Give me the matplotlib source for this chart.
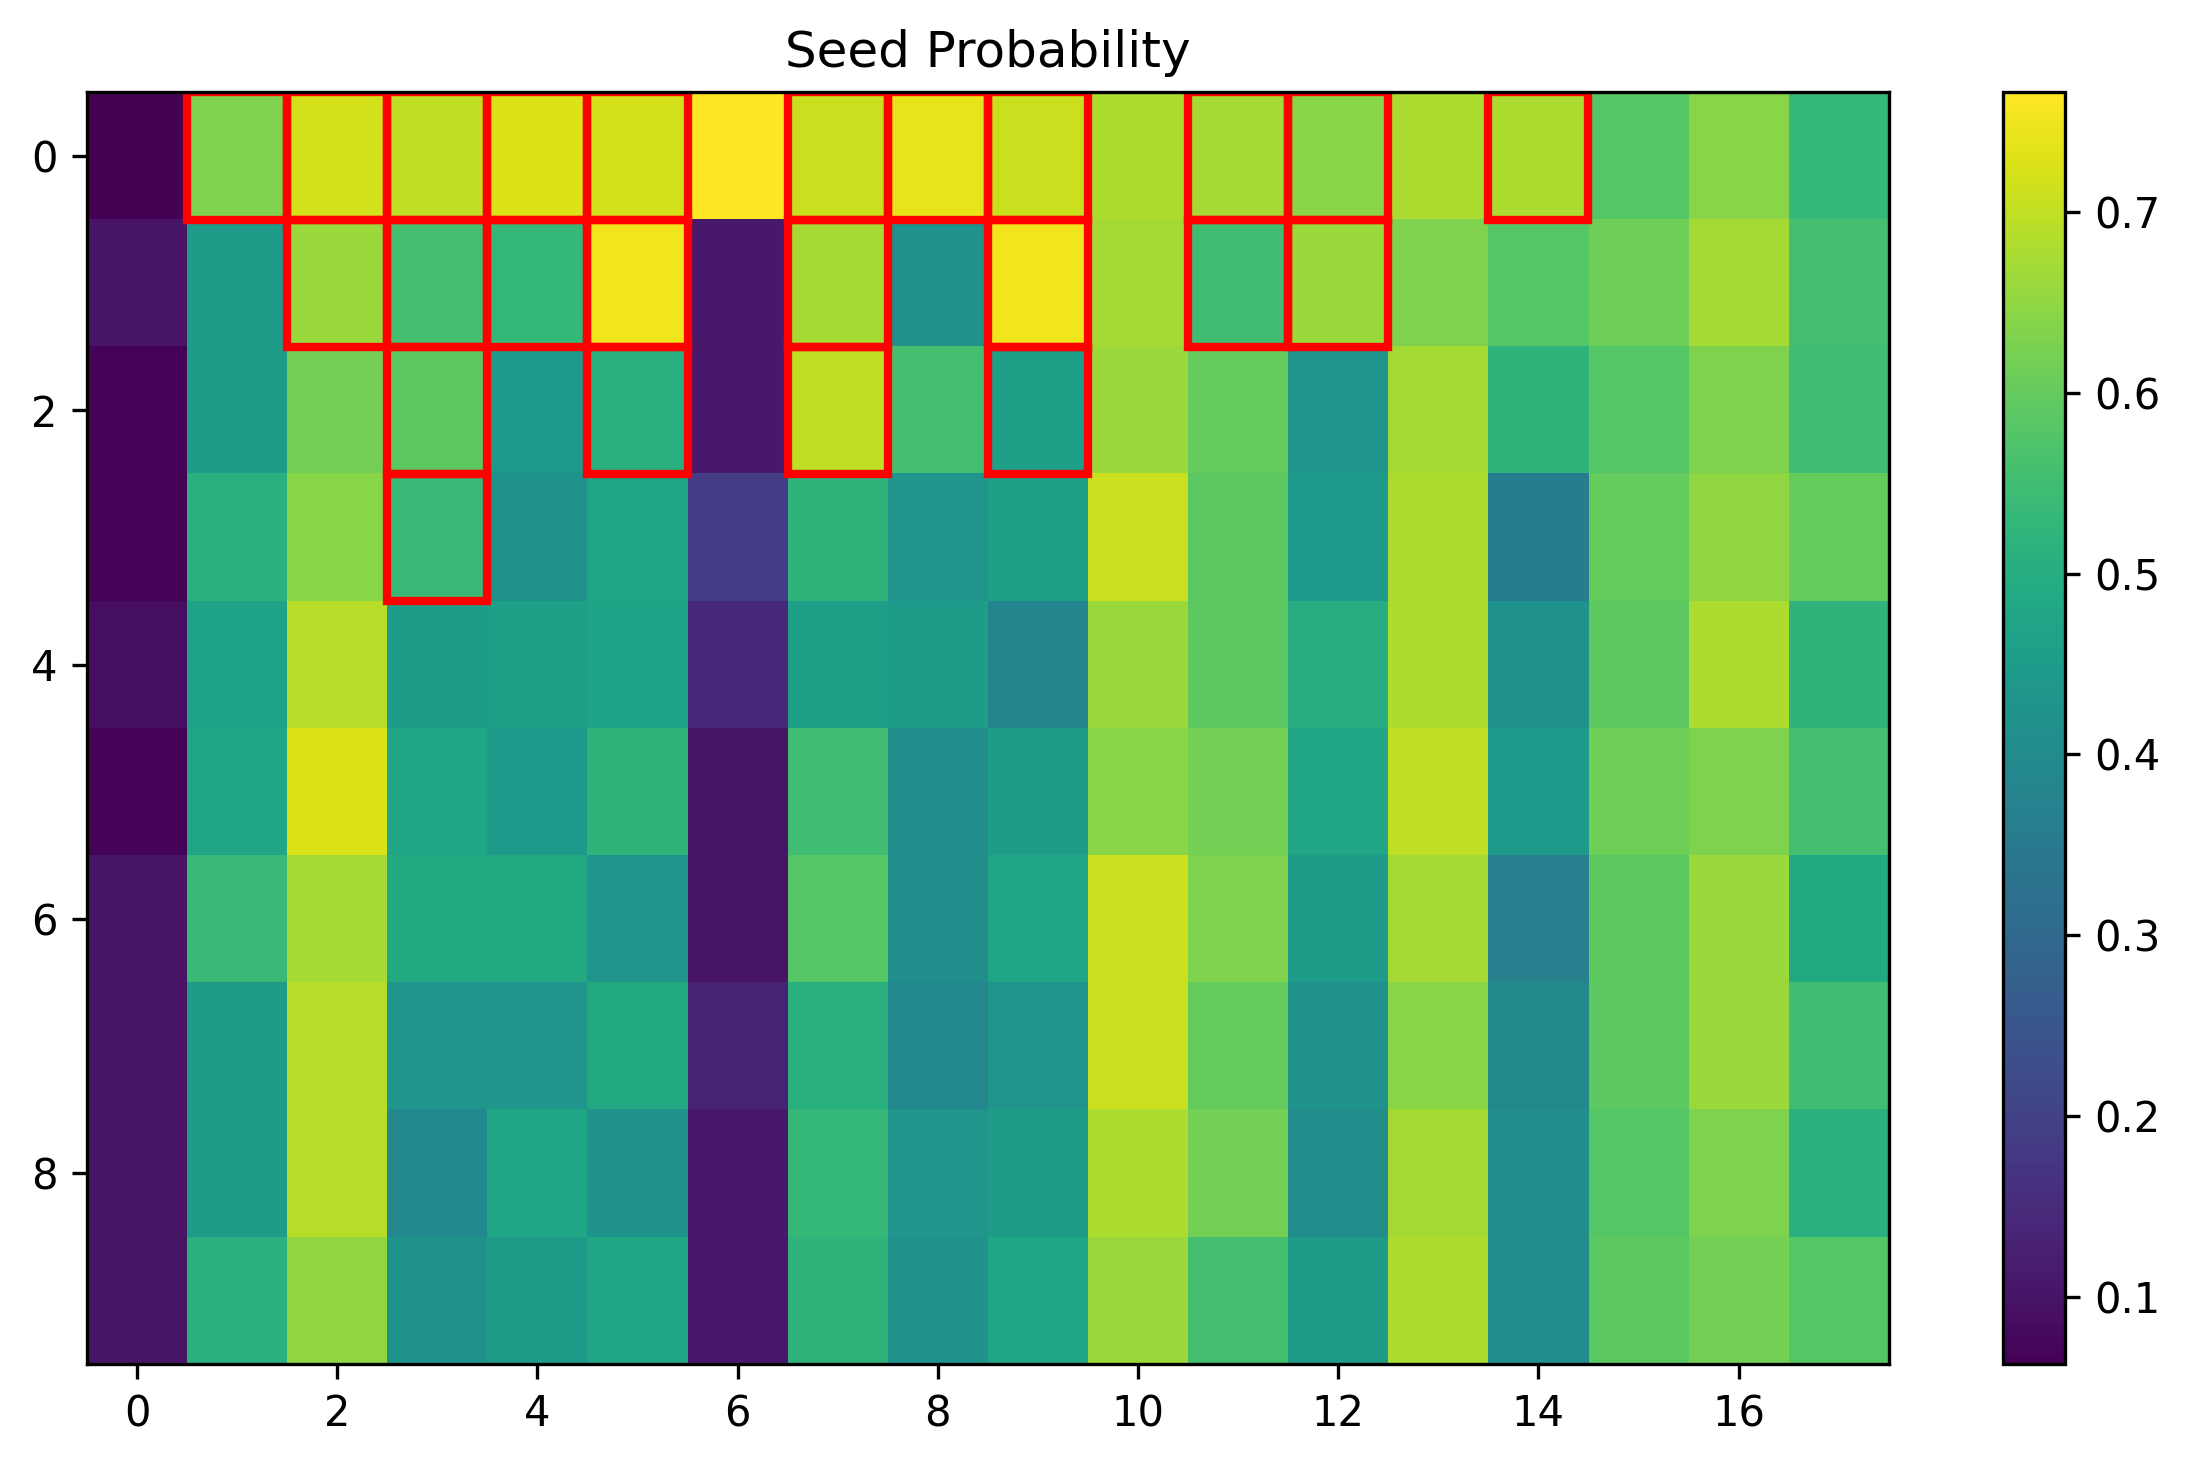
import matplotlib

matplotlib.use("Agg")
import matplotlib.pyplot as plt
import matplotlib.patches as patches
import numpy as np

# seed probability grid, 10 rows x 18 columns
row0 = [0.063, 0.63, 0.72, 0.70, 0.73, 0.72, 0.766, 0.71, 0.74, 0.71, 0.68, 0.67, 0.64, 0.68, 0.68, 0.58, 0.64, 0.53]
row1 = [0.10, 0.45, 0.66, 0.56, 0.53, 0.75, 0.11, 0.67, 0.42, 0.75, 0.67, 0.55, 0.66, 0.63, 0.58, 0.61, 0.67, 0.56]
row2 = [0.07, 0.45, 0.62, 0.59, 0.44, 0.51, 0.11, 0.70, 0.56, 0.46, 0.66, 0.60, 0.43, 0.67, 0.52, 0.58, 0.63, 0.55]
row3 = [0.07, 0.51, 0.64, 0.54, 0.42, 0.48, 0.19, 0.52, 0.43, 0.46, 0.71, 0.59, 0.44, 0.68, 0.36, 0.60, 0.65, 0.60]
row4 = [0.09, 0.47, 0.69, 0.45, 0.46, 0.47, 0.14, 0.46, 0.45, 0.38, 0.66, 0.59, 0.50, 0.68, 0.42, 0.59, 0.68, 0.52]
row5 = [0.07, 0.48, 0.73, 0.48, 0.44, 0.52, 0.10, 0.55, 0.41, 0.45, 0.64, 0.62, 0.48, 0.70, 0.44, 0.61, 0.63, 0.56]
row6 = [0.10, 0.54, 0.67, 0.49, 0.49, 0.43, 0.10, 0.58, 0.41, 0.48, 0.71, 0.63, 0.45, 0.67, 0.37, 0.59, 0.66, 0.49]
row7 = [0.10, 0.45, 0.69, 0.43, 0.43, 0.49, 0.13, 0.51, 0.39, 0.43, 0.71, 0.60, 0.42, 0.64, 0.40, 0.59, 0.66, 0.55]
row8 = [0.10, 0.45, 0.69, 0.39, 0.48, 0.42, 0.11, 0.53, 0.43, 0.45, 0.68, 0.62, 0.41, 0.67, 0.41, 0.58, 0.63, 0.51]
row9 = [0.10, 0.51, 0.65, 0.42, 0.45, 0.48, 0.11, 0.52, 0.42, 0.48, 0.66, 0.56, 0.45, 0.68, 0.41, 0.59, 0.62, 0.58]

# cells outlined in red (row, col)
selected = [(0, 1), (0, 2), (0, 3), (0, 4), (0, 5), (0, 7), (0, 8), (0, 9),
            (0, 11), (0, 12), (0, 14),
            (1, 2), (1, 3), (1, 4), (1, 5), (1, 7), (1, 9), (1, 11), (1, 12),
            (2, 3), (2, 5), (2, 7), (2, 9),
            (3, 3)]

grid = np.array([row0, row1, row2, row3, row4, row5, row6, row7, row8, row9])

fig = plt.figure(figsize=(2191 / 300, 1466 / 300), dpi=300)
ax = fig.add_axes([0.0397, 0.0696, 0.8223, 0.8674])
cax = fig.add_axes([0.914, 0.0696, 0.0285, 0.8674])

im = ax.imshow(grid, cmap="viridis", aspect="auto")
for r, c in selected:
    ax.add_patch(patches.Rectangle((c - 0.5, r - 0.5), 1, 1, fill=False,
                                   edgecolor="red", linewidth=2))
ax.set_title("Seed Probability")
fig.colorbar(im, cax=cax)

fig.savefig("out.png", dpi=300)
